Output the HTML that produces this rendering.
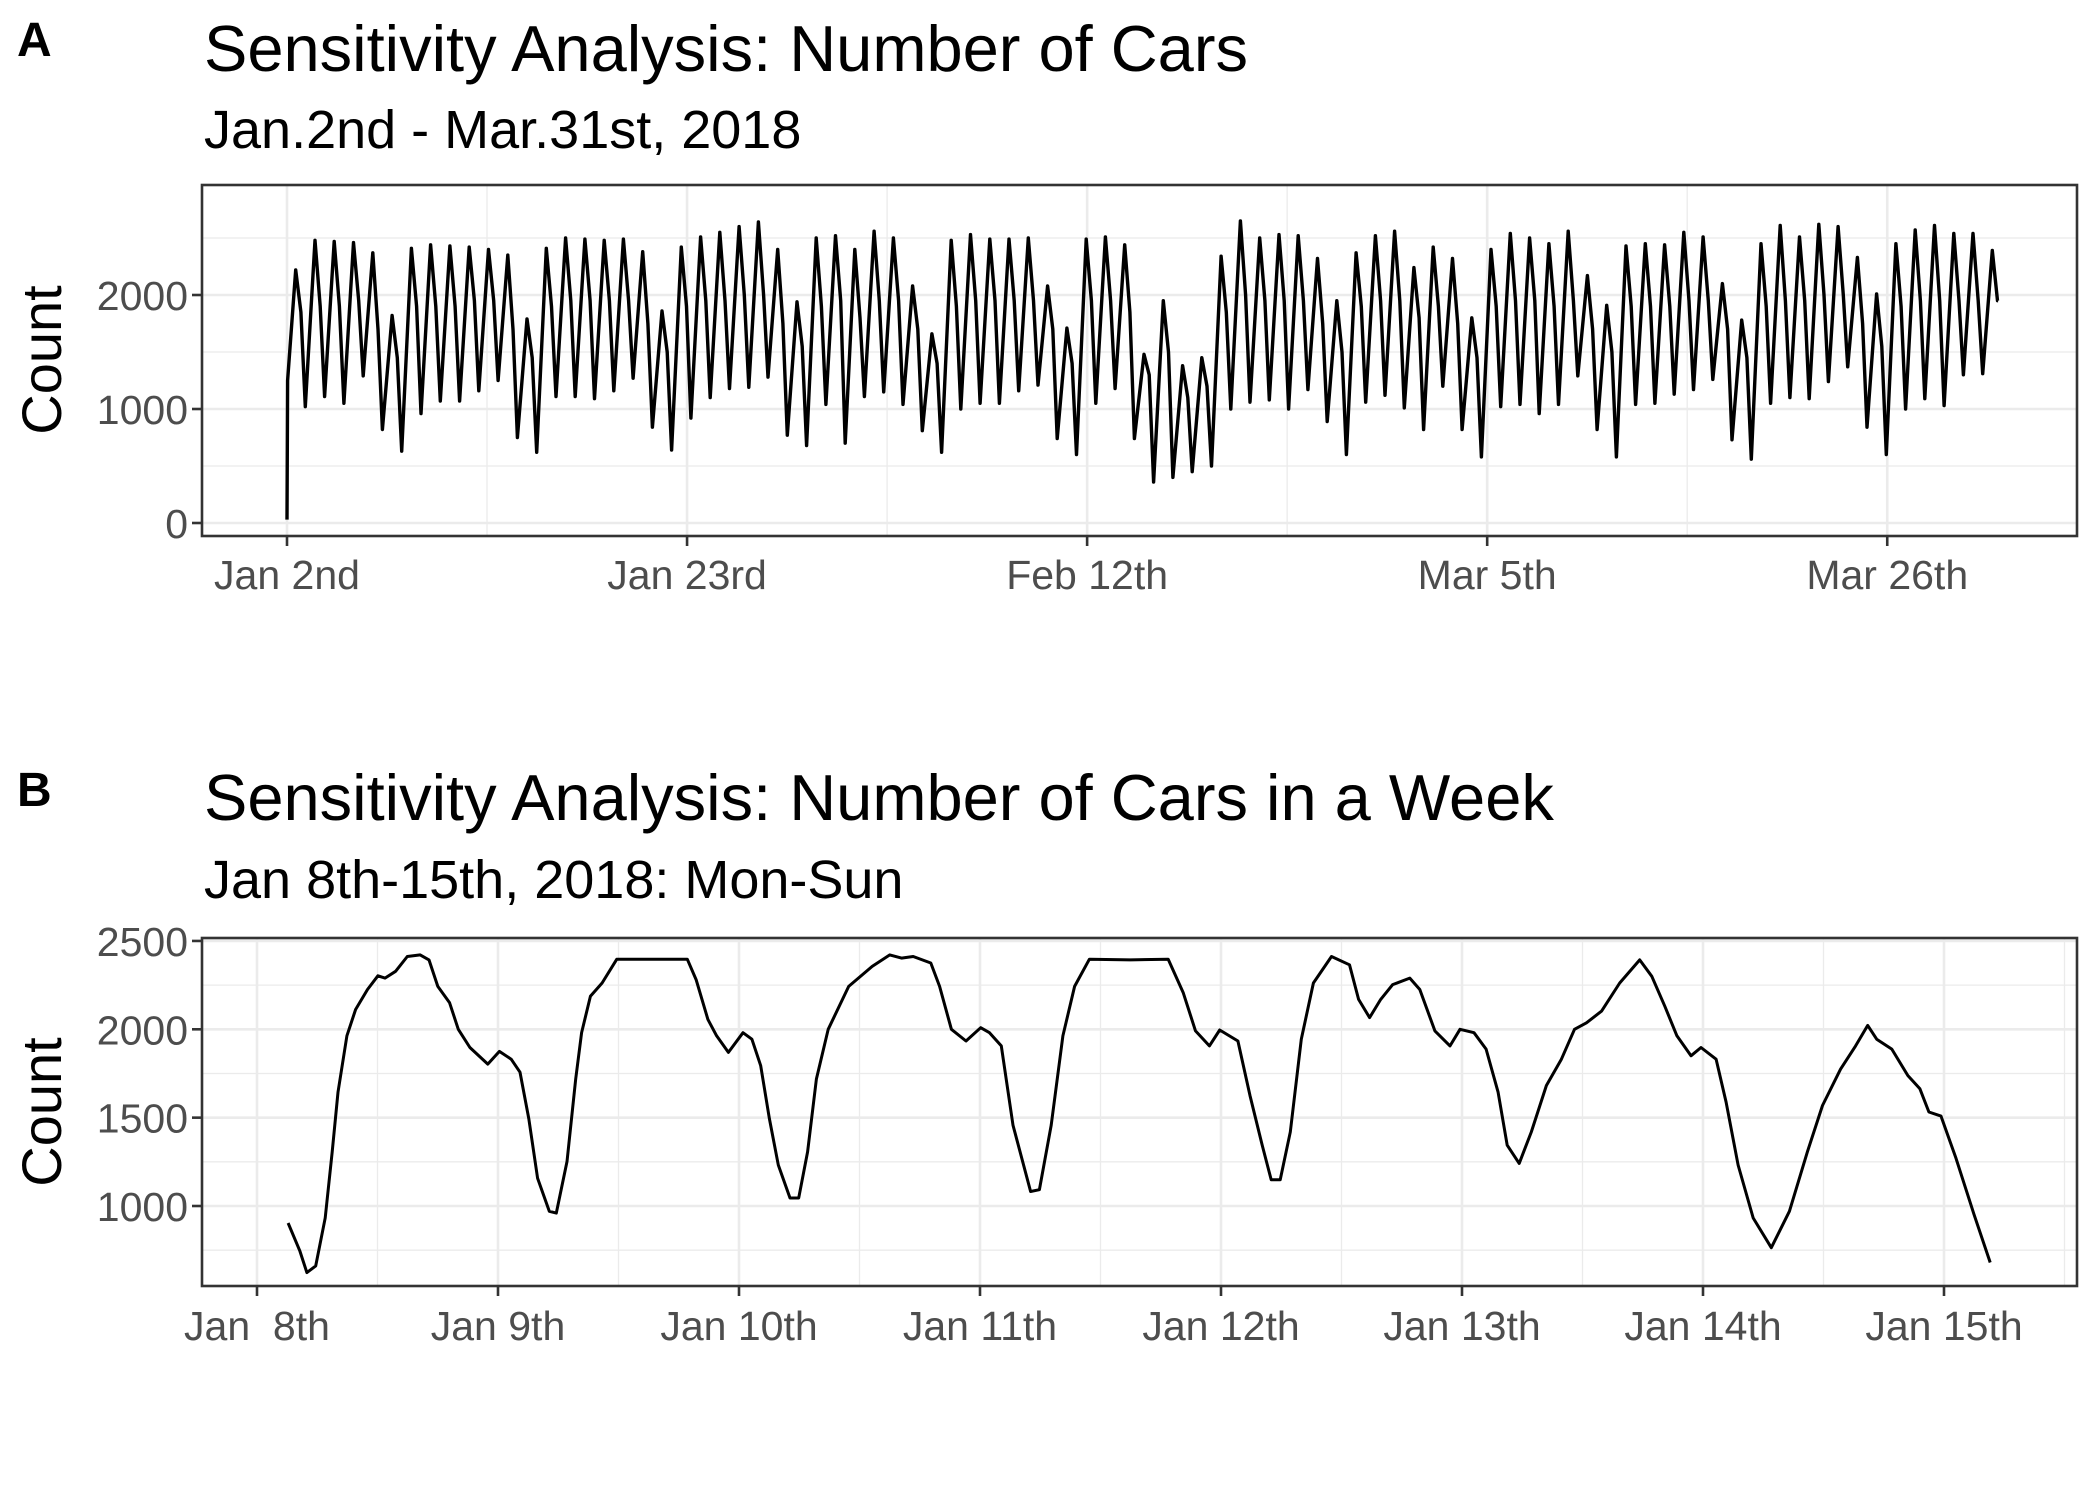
<!DOCTYPE html>
<html><head><meta charset="utf-8">
<style>
html,body{margin:0;padding:0;background:#fff;}
svg{display:block;font-family:"Liberation Sans",Arial,sans-serif;}
</style></head>
<body>
<svg id="fig" width="2100" height="1500" viewBox="0 0 2100 1500" xmlns="http://www.w3.org/2000/svg">
<rect width="2100" height="1500" fill="#fff"/>
<text x="17" y="56" font-size="48" font-weight="bold">A</text>
<text x="204" y="71" font-size="65">Sensitivity Analysis: Number of Cars</text>
<text x="204" y="148" font-size="54">Jan.2nd - Mar.31st, 2018</text>
<text x="17" y="806" font-size="48" font-weight="bold">B</text>
<text x="204" y="820" font-size="65">Sensitivity Analysis: Number of Cars in a Week</text>
<text x="204" y="898" font-size="54">Jan 8th-15th, 2018: Mon-Sun</text>
<text transform="translate(61,360) rotate(-90)" text-anchor="middle" font-size="56">Count</text>
<text transform="translate(61,1112) rotate(-90)" text-anchor="middle" font-size="56">Count</text>
<g id="pa"></g>
<g id="pb"></g>
</svg>
<script>
// ---------- Panel A data ----------
const tickDaysA = [0, 20.75, 41.5, 62.25, 83];
const tickLabelsA = ["Jan 2nd", "Jan 23rd", "Feb 12th", "Mar 5th", "Mar 26th"];
const yTicksA = [0, 1000, 2000];
const yMinorA = [500, 1500, 2500];
const peakA = [2220,2480,2470,2460,2370,1820,2410,2440,2430,2420,2400,2350,1790,2410,2500,2490,2480,2490,2380,1860,2420,2510,2550,2600,2640,2400,1940,2500,2520,2400,2560,
2500,2080,1660,2480,2530,2490,2490,2500,2080,1710,2490,2510,2440,1480,1950,1380,1450,2340,2650,2500,2530,2520,2320,1950,2370,2520,2560,2240,2420,2320,1800,
2400,2540,2500,2450,2560,2170,1910,2430,2450,2440,2550,2510,2100,1780,2450,2610,2510,2620,2600,2330,2010,2450,2570,2610,2540,2540,2390];
const eveA = [1850,1900,1900,1950,1700,1450,1900,1900,1900,1950,1950,1700,1450,1900,1950,1950,1950,1950,1750,1500,1900,1950,1950,2000,2000,1750,1550,1900,1950,1800,1950,
1950,1700,1400,1900,1950,1950,1950,1950,1700,1400,1950,1950,1850,1300,1500,1100,1200,1850,2000,1950,1950,1950,1750,1500,1900,1950,1950,1800,1900,1750,1450,
1900,1950,1950,1900,1950,1700,1500,1900,1900,1900,1950,1950,1700,1450,1900,1950,1950,2000,2000,1750,1550,1900,1950,1950,1950,1950,1950];
const troughA = [1020,1110,1050,1290,820,630,960,1070,1070,1160,1250,750,620,1110,1110,1090,1160,1270,840,640,920,1100,1180,1190,1280,770,680,1040,700,1110,1150,
1040,810,620,1000,1050,1050,1160,1210,740,600,1050,1180,740,360,400,450,500,1000,1060,1080,1000,1170,890,600,1060,1120,1010,820,1200,820,580,
1020,1040,960,1040,1290,820,580,1040,1050,1130,1170,1260,730,560,1050,1100,1090,1240,1370,840,600,1000,1090,1030,1300,1310];
const startA = [30, 1250];
const endA = 1950;

// ---------- Panel B data ----------
const tickDaysB = [0,1,2,3,4,5,6,7];
const tickLabelsB = ["Jan  8th","Jan 9th","Jan 10th","Jan 11th","Jan 12th","Jan 13th","Jan 14th","Jan 15th"];
const yTicksB = [1000,1500,2000,2500];
const yMinorB = [750,1250,1750,2250];
const hoursB = [3.1,4.27,4.97,5.85,6.79,7.49,8.07,8.95,9.82,11.0,12.04,12.75,13.8,14.97,16.25,17.13,18.0,19.18,20.05,21.2,22.98,24.14,25.31,26.19,27.07,27.94,29.11,29.81,30.87,31.74,32.33,33.2,34.37,35.83,39.05,42.85,43.73,44.9,45.77,46.94,48.4,49.28,50.16,51.03,51.91,53.08,53.95,54.83,55.71,56.88,58.92,61.26,63.02,64.18,65.35,67.1,67.98,69.15,70.61,72.07,72.95,74.12,75.29,77.04,77.92,79.09,80.26,81.42,82.89,86.98,90.74,92.25,93.46,94.84,95.87,97.68,98.89,100.1,101.0,101.9,102.9,104.0,105.2,107.0,108.8,109.7,110.8,111.9,113.1,114.8,115.8,117.3,118.8,119.8,121.2,122.4,123.6,124.5,125.7,126.9,128.4,129.9,131.2,132.4,133.9,135.7,137.7,138.9,140.2,141.4,142.8,143.8,145.3,146.3,147.5,149.0,150.8,152.6,154.4,155.9,157.7,159.2,160.4,161.3,162.8,164.4,165.6,166.5,167.7,169.2,171.0,172.6];
const countsB = [904,745,623,661,932,1307,1644,1963,2112,2225,2303,2290,2328,2412,2421,2393,2243,2150,2000,1897,1803,1875,1831,1757,1494,1157,970,960,1251,1719,1981,2187,2262,2397,2397,2397,2281,2056,1963,1869,1981,1944,1794,1494,1232,1045,1045,1307,1719,2000,2243,2356,2421,2403,2412,2375,2243,2000,1934,2009,1981,1906,1457,1082,1092,1457,1963,2243,2397,2393,2397,2206,1991,1906,1996,1934,1625,1344,1148,1148,1419,1944,2262,2412,2365,2169,2066,2169,2253,2290,2225,1991,1906,2000,1981,1888,1644,1344,1241,1419,1682,1831,2000,2037,2103,2262,2393,2300,2131,1963,1850,1897,1831,1588,1232,932,764,970,1307,1569,1775,1906,2022,1944,1888,1738,1663,1532,1509,1270,951,680];

const NS = "http://www.w3.org/2000/svg";
function mk(tag, attrs, parent){const e=document.createElementNS(NS,tag);for(const k in attrs)e.setAttribute(k,attrs[k]);parent.appendChild(e);return e;}

const L = 202, R = 2077;
// Panel A scales
const xA = d => 287 + d*19.28;
const yA = v => 523 - v*0.1140;
const topA = 185, botA = 536;
// Panel B scales
const xB = d => 257 + d*241;
const yB = v => 1206 - (v-1000)*0.1767;
const topB = 938, botB = 1286;

function drawPanel(g, top, bot, xs, ys, xMinorDays, yMinor, yTicks, xTickDays, xLabels, labelBase, prefix){
  const bg = mk('rect',{x:L,y:top,width:R-L,height:bot-top,fill:'#fff'},g);
  
  
  yMinor.forEach(v=>{const l=mk('line',{x1:L,x2:R,y1:ys(v),y2:ys(v),stroke:'#ebebeb','stroke-width':1.3},g);
    
    });
  xMinorDays.forEach(d=>{const x=xs(d); if(x<=L||x>=R) return; const l=mk('line',{x1:x,x2:x,y1:top,y2:bot,stroke:'#ebebeb','stroke-width':1.3},g);
    
    });
  yTicks.forEach(v=>{const l=mk('line',{x1:L,x2:R,y1:ys(v),y2:ys(v),stroke:'#ebebeb','stroke-width':2.6},g);
    
    
    const t=mk('line',{x1:L-10,x2:L,y1:ys(v),y2:ys(v),stroke:'#333','stroke-width':2.6},g);
    
    
    const tx=mk('text',{x:L-14,y:ys(v)+15,'text-anchor':'end','font-size':41,fill:'#4d4d4d'},g);
    tx.textContent=String(v);
    
    });
  xTickDays.forEach((d,i)=>{const x=xs(d);
    const l=mk('line',{x1:x,x2:x,y1:top,y2:bot,stroke:'#ebebeb','stroke-width':2.6},g);
    
    
    const t=mk('line',{x1:x,x2:x,y1:bot,y2:bot+10,stroke:'#333','stroke-width':2.6},g);
    
    
    const tx=mk('text',{x:x,y:labelBase,'text-anchor':'middle','font-size':41,fill:'#4d4d4d','xml:space':'preserve'},g);
    tx.style.whiteSpace='pre';
    tx.textContent=xLabels[i];
    
    });
}

// Panel A
const gA = document.getElementById('pa');
const minorA = [];
for(let i=0;i<tickDaysA.length-1;i++) minorA.push((tickDaysA[i]+tickDaysA[i+1])/2);
minorA.push(tickDaysA[tickDaysA.length-1] + (tickDaysA[1]-tickDaysA[0])/2);
drawPanel(gA, topA, botA, xA, yA, minorA, yMinorA, yTicksA, tickDaysA, tickLabelsA, 589, 'panel-a');
const ptsA = [[0,startA[0]],[0.03,startA[1]]];
for(let d=0; d<peakA.length; d++){
  ptsA.push([d+0.45, peakA[d]]);
  ptsA.push([d+0.72, eveA[d]]);
  if(d<troughA.length) ptsA.push([d+0.95, troughA[d]]);
}
ptsA.push([peakA.length-1+0.75, endA]);
const lineA = mk('path',{d:'M'+ptsA.map(p=>xA(p[0]).toFixed(1)+','+yA(p[1]).toFixed(1)).join('L'),fill:'none',stroke:'#000','stroke-width':3.4,'stroke-linejoin':'round'},gA);


const frA = mk('rect',{x:L,y:topA,width:R-L,height:botA-topA,fill:'none',stroke:'#333','stroke-width':2.6},gA);



// Panel B
const gB = document.getElementById('pb');
const minorB = [-0.5];
tickDaysB.forEach(d=>minorB.push(d+0.5));
drawPanel(gB, topB, botB, xB, yB, minorB, yMinorB, yTicksB, tickDaysB, tickLabelsB, 1340, 'panel-b');
const lineB = mk('path',{d:'M'+hoursB.map((h,i)=>xB(h/24).toFixed(1)+','+yB(countsB[i]).toFixed(1)).join('L'),fill:'none',stroke:'#000','stroke-width':3,'stroke-linejoin':'round'},gB);


const frB = mk('rect',{x:L,y:topB,width:R-L,height:botB-topB,fill:'none',stroke:'#333','stroke-width':2.6},gB);


</script>
</body></html>
